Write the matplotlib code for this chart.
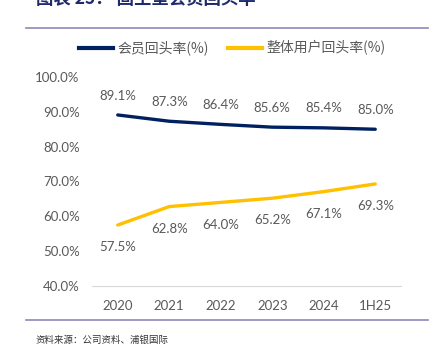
import matplotlib
matplotlib.use('Agg')
import matplotlib.pyplot as plt
from matplotlib.lines import Line2D

# data
periods = ['2020', '2021', '2022', '2023', '2024', '1H25']
member_rate = [89.1, 87.3, 86.4, 85.6, 85.4, 85.0]
overall_rate = [57.5, 62.8, 64.0, 65.2, 67.1, 69.3]
yticks = [40, 50, 60, 70, 80, 90, 100]

NAVY = '#002060'
GOLD = '#FFC000'
GREY = '#595959'
CJK = ['Noto Sans CJK SC', 'DejaVu Sans']
NUM = ['Lato', 'DejaVu Sans']

W, H = 433, 352
fig = plt.figure(figsize=(W / 100, H / 100), dpi=100)

# axes placed in pixel terms of the reference
left, right, top, bottom = 92, 401, 77, 286
ax = fig.add_axes([left / W, 1 - bottom / H, (right - left) / W, (bottom - top) / H])

x = range(len(periods))
ax.plot(x, member_rate, color=NAVY, lw=2.4, solid_capstyle='round', solid_joinstyle='round')
ax.plot(x, overall_rate, color=GOLD, lw=2.4, solid_capstyle='round', solid_joinstyle='round')

for i, v in enumerate(member_rate):
    ax.annotate(f'{v:.1f}%', (i, v), xytext=(0, 14), textcoords='offset points',
                ha='center', va='center', color=GREY, fontsize=9.5, family=NUM)
for i, v in enumerate(overall_rate):
    ax.annotate(f'{v:.1f}%', (i, v), xytext=(0, -16), textcoords='offset points',
                ha='center', va='center', color=GREY, fontsize=9.5, family=NUM)

ax.set_xlim(-0.5, len(periods) - 0.5)
ax.set_ylim(40, 100)
ax.set_yticks(yticks)
ax.set_yticklabels([f'{t:.1f}%' for t in yticks], family=NUM, fontsize=9.5, color=GREY)
ax.set_xticks(list(x))
ax.set_xticklabels(periods, family=NUM, fontsize=9.5, color=GREY)
ax.tick_params(axis='x', length=0, pad=10)
ax.tick_params(axis='y', length=0, pad=9)
for s in ax.spines.values():
    s.set_visible(False)
ax.spines['bottom'].set_visible(True)
ax.spines['bottom'].set_color('#D9D9D9')
ax.spines['bottom'].set_linewidth(0.8)

# legend
handles = [Line2D([], [], color=NAVY, lw=3), Line2D([], [], color=GOLD, lw=3)]
fig.legend(handles, ['会员回头率(%)', '整体用户回头率(%)'], loc='center',
           bbox_to_anchor=(0.537, 1 - 48 / H), ncol=2, frameon=False,
           prop={'family': CJK, 'size': 10}, labelcolor=GREY,
           handlelength=2.4, handletextpad=0.35, columnspacing=1.4)

# title (cut off at top like the reference) and rules
fig.text(36 / W, 1 - 4 / H, '图表 25： 固生堂会员回头率', family=CJK, fontsize=12.5,
         fontweight='bold', color='#1F2A6B', va='baseline', ha='left')
fig.add_artist(Line2D([26 / W, 428 / W], [1 - 28 / H, 1 - 28 / H], color='#8C89BA', lw=1.2))
fig.add_artist(Line2D([26 / W, 428 / W], [1 - 320 / H, 1 - 320 / H], color='#8C89BA', lw=1.2))
fig.text(35 / W, 1 - 340 / H, '资料来源：公司资料、浦银国际', family=CJK, fontsize=6.8,
         color='#333333', va='center', ha='left')

fig.savefig('out.png', dpi=100)
